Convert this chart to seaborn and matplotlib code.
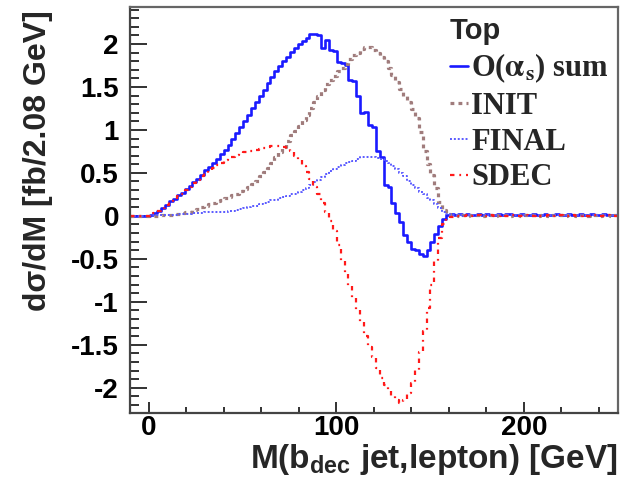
import numpy as np
import pandas as pd
import matplotlib
matplotlib.use("Agg")
import matplotlib.pyplot as plt
from matplotlib.ticker import MultipleLocator
from matplotlib.font_manager import FontProperties
import seaborn as sns

# 125 bins of 2.08 GeV between -10 and 250 GeV
bin_edges = list(np.linspace(-10.0, 250.0, 126))

# O(alpha_s) sum, per bin [fb/2.08 GeV]
sum_vals = [
    0, 0, 0, 0, 0,
    0.01, 0.03, 0.06, 0.09, 0.13,
    0.17, 0.20, 0.24, 0.27, 0.31,
    0.35, 0.39, 0.43, 0.48, 0.53,
    0.57, 0.62, 0.66, 0.72, 0.77,
    0.83, 0.89, 0.96, 1.03, 1.10,
    1.17, 1.25, 1.32, 1.40, 1.47,
    1.55, 1.61, 1.68, 1.74, 1.80,
    1.85, 1.91, 1.95, 2.00, 2.03,
    2.07, 2.12, 2.12, 2.10, 1.95,
    2.05, 1.93, 1.92, 1.79, 1.78,
    1.76, 1.58, 1.57, 1.40, 1.20,
    1.21, 1.06, 1.03, 0.76, 0.68,
    0.36, 0.34, 0.15, 0.03, -0.07,
    -0.22, -0.30, -0.38, -0.40, -0.44,
    -0.47, -0.40, -0.30, -0.21, -0.12,
    -0.04, 0.01, 0.02, 0.01, 0.02,
    0.01, 0.02, 0.01, 0.01, 0.02, 0.01, 0.02, 0.01, 0.01, 0.02,
    0.01, 0.02, 0.02, 0.01, 0.01, 0.02, 0.01, 0.01, 0.02, 0.01,
    0.01, 0.02, 0.01, 0.01, 0.02, 0.01, 0.01, 0.02, 0.01, 0.01,
    0.02, 0.01, 0.01, 0.02, 0.01, 0.01, 0.02, 0.01, 0.01, 0.01,
]

# Initial-state radiation contribution
init_vals = [
    0, 0, 0, 0, 0,
    0, 0, 0, 0.005, 0.01,
    0.01, 0.02, 0.02, 0.03, 0.04,
    0.05, 0.07, 0.08, 0.10, 0.12,
    0.14, 0.15, 0.17, 0.19, 0.21,
    0.22, 0.24, 0.26, 0.29, 0.31,
    0.34, 0.37, 0.41, 0.46, 0.51,
    0.56, 0.62, 0.68, 0.74, 0.80,
    0.87, 0.94, 0.99, 1.04, 1.11,
    1.17, 1.25, 1.33, 1.40, 1.47,
    1.53, 1.58, 1.63, 1.68, 1.72,
    1.77, 1.82, 1.87, 1.90, 1.94,
    1.97, 1.96, 1.93, 1.89, 1.85,
    1.80, 1.72, 1.64, 1.56, 1.48,
    1.40, 1.32, 1.24, 1.14, 0.98,
    0.76, 0.60, 0.48, 0.32, 0.16,
    0.07, 0.02, 0.01, 0.01, 0.0,
    0.01, 0.0, 0.01, 0.005, 0.01, 0.0, 0.01, 0.005, 0.0, 0.01,
    0.005, 0.01, 0.0, 0.01, 0.005, 0.0, 0.01, 0.005, 0.01, 0.0,
    0.01, 0.005, 0.0, 0.01, 0.005, 0.01, 0.0, 0.005, 0.01, 0.0,
    0.005, 0.01, 0.0, 0.005, 0.01, 0.0, 0.01, 0.005, 0.0, 0.01,
]

# Final-state radiation contribution
final_vals = [
    0, 0, 0, 0, 0,
    0, 0.005, 0.01, 0.01, 0.01,
    0.01, 0.015, 0.02, 0.02, 0.02,
    0.025, 0.03, 0.03, 0.035, 0.04,
    0.04, 0.045, 0.045, 0.05, 0.05,
    0.055, 0.06, 0.07, 0.08, 0.09,
    0.10, 0.11, 0.12, 0.14, 0.15,
    0.16, 0.18, 0.19, 0.21, 0.22,
    0.23, 0.25, 0.26, 0.28, 0.30,
    0.33, 0.36, 0.39, 0.42, 0.45,
    0.49, 0.52, 0.55, 0.57, 0.59,
    0.61, 0.63, 0.64, 0.66, 0.68,
    0.69, 0.69, 0.68, 0.67, 0.66,
    0.64, 0.61, 0.58, 0.54, 0.50,
    0.46, 0.41, 0.36, 0.32, 0.28,
    0.25, 0.21, 0.18, 0.14, 0.09,
    0.05, 0.02, 0.01, 0.01, 0.01,
    0.01, 0.015, 0.01, 0.01, 0.015, 0.01, 0.01, 0.015, 0.01, 0.01,
    0.015, 0.01, 0.01, 0.015, 0.01, 0.01, 0.015, 0.01, 0.01, 0.015,
    0.01, 0.01, 0.015, 0.01, 0.01, 0.015, 0.01, 0.01, 0.015, 0.01,
    0.01, 0.015, 0.01, 0.01, 0.015, 0.01, 0.01, 0.015, 0.01, 0.01,
]

# Radiation in the top decay
sdec_vals = [
    0, 0, 0, 0, 0,
    0.01, 0.03, 0.06, 0.09, 0.13,
    0.17, 0.20, 0.23, 0.26, 0.30,
    0.34, 0.38, 0.42, 0.46, 0.50,
    0.53, 0.56, 0.59, 0.62, 0.65,
    0.67, 0.69, 0.71, 0.73, 0.74,
    0.75, 0.76, 0.77, 0.78, 0.79,
    0.80, 0.81, 0.81, 0.81, 0.80,
    0.78, 0.75, 0.70, 0.65, 0.58,
    0.51, 0.43, 0.34, 0.25, 0.15,
    0.05, -0.06, -0.18, -0.34, -0.52,
    -0.67, -0.82, -0.96, -1.09, -1.24,
    -1.40, -1.52, -1.64, -1.77, -1.89,
    -1.97, -2.03, -2.09, -2.14, -2.18,
    -2.14, -2.06, -1.94, -1.79, -1.58,
    -1.34, -1.07, -0.80, -0.52, -0.26,
    -0.10, -0.03, -0.01, 0.0, 0.0,
    0.0, 0.005, 0.0, 0.0, 0.005, 0.0, 0.0, 0.005, 0.0, 0.0,
    0.005, 0.0, 0.0, 0.005, 0.0, 0.0, 0.005, 0.0, 0.0, 0.005,
    0.0, 0.0, 0.005, 0.0, 0.0, 0.005, 0.0, 0.0, 0.005, 0.0,
    0.0, 0.005, 0.0, 0.0, 0.005, 0.0, 0.0, 0.005, 0.0, 0.0,
]

series_labels = [r"O($\mathbf{\alpha_s}$) sum", "INIT", "FINAL", "SDEC"]
legend_title = "Top"
y_ticks = [-2, -1.5, -1, -0.5, 0, 0.5, 1, 1.5, 2]
y_tick_labels = ["-2", "-1.5", "-1", "-0.5", "0", "0.5", "1", "1.5", "2"]
x_ticks = [0, 100, 200]
x_tick_labels = ["0", "100", "200"]

sns.set_style("ticks")
plt.rcParams["font.family"] = ["Liberation Sans", "DejaVu Sans"]
plt.rcParams["font.weight"] = "bold"
plt.rcParams["axes.unicode_minus"] = False
plt.rcParams["mathtext.fontset"] = "custom"
plt.rcParams["mathtext.rm"] = "Liberation Sans:bold"
plt.rcParams["mathtext.bf"] = "Liberation Sans:bold"
plt.rcParams["mathtext.it"] = "Liberation Sans:bold"

fig = plt.figure(figsize=(6.2, 4.87), dpi=100)
ax = fig.add_axes([130 / 620, 1 - 412.7 / 487, 487.7 / 620, 405.7 / 487])

centers = [(lo + hi) / 2 for lo, hi in zip(bin_edges[:-1], bin_edges[1:])]
styles = [
    dict(color="#1a1aff", linestyle="-", linewidth=1.9),
    dict(color="#a07c7c", linestyle=(0, (1.2, 1.3)), linewidth=2.3),
    dict(color="#5a5aff", linestyle=(0, (1.0, 1.0)), linewidth=1.4),
    dict(color="#ff1a1a", linestyle=(0, (2.0, 2.2, 0.8, 2.2)), linewidth=1.6),
]
for label, values, style in zip(series_labels,
                                [sum_vals, init_vals, final_vals, sdec_vals],
                                styles):
    frame = pd.DataFrame({"mass": centers, "xsec": values})
    sns.histplot(data=frame, x="mass", weights="xsec", bins=bin_edges,
                 element="step", fill=False, ax=ax, label=label, **style)

ax.set_xlim(-10, 250)
ax.set_ylim(-2.29, 2.43)

ax.set_xticks(x_ticks, x_tick_labels)
ax.set_yticks(y_ticks, y_tick_labels)
ax.xaxis.set_minor_locator(MultipleLocator(20))
ax.yaxis.set_minor_locator(MultipleLocator(0.1))
ax.tick_params(axis="both", which="both", direction="in", colors="#222222",
               width=1.3, top=False, right=False, labelsize=20)
ax.tick_params(axis="x", which="major", length=8, pad=2)
ax.tick_params(axis="x", which="minor", length=4.3)
ax.tick_params(axis="y", which="major", length=12, pad=8)
ax.tick_params(axis="y", which="minor", length=6.5)
for lab in ax.get_xticklabels() + ax.get_yticklabels():
    lab.set_fontweight("bold")
    lab.set_color("black")

for side, spine in ax.spines.items():
    spine.set_linewidth(1.6)
    spine.set_color("#444444" if side in ("left", "bottom") else "#666666")

ax.set_xlabel(r"M(b$_{\mathbf{dec}}$ jet,lepton) [GeV]", fontsize=24,
              fontweight="bold", loc="right")
ax.xaxis.set_label_coords(1.0, -0.072)
ax.xaxis.label.set_verticalalignment("top")
ax.set_ylabel("dσ/dM [fb/2.08 GeV]", fontsize=23, fontweight="bold", loc="top")
ax.yaxis.set_label_coords(-0.158, 0.993)

handles, labels = ax.get_legend_handles_labels()
leg = ax.legend(handles, labels, title=legend_title, loc="upper left",
                bbox_to_anchor=(450 / 620, 1 - 17 / 487),
                bbox_transform=fig.transFigure, frameon=False,
                prop=FontProperties(family="Liberation Serif", weight="bold", size=22),
                title_fontproperties=FontProperties(family="Liberation Sans",
                                                    weight="bold", size=21),
                alignment="left", handlelength=0.6, handletextpad=0.1,
                labelspacing=0.22, borderpad=0, borderaxespad=0)
for t in leg.get_texts():
    t.set_math_fontfamily("stix")

fig.savefig("out.png", dpi=100)
